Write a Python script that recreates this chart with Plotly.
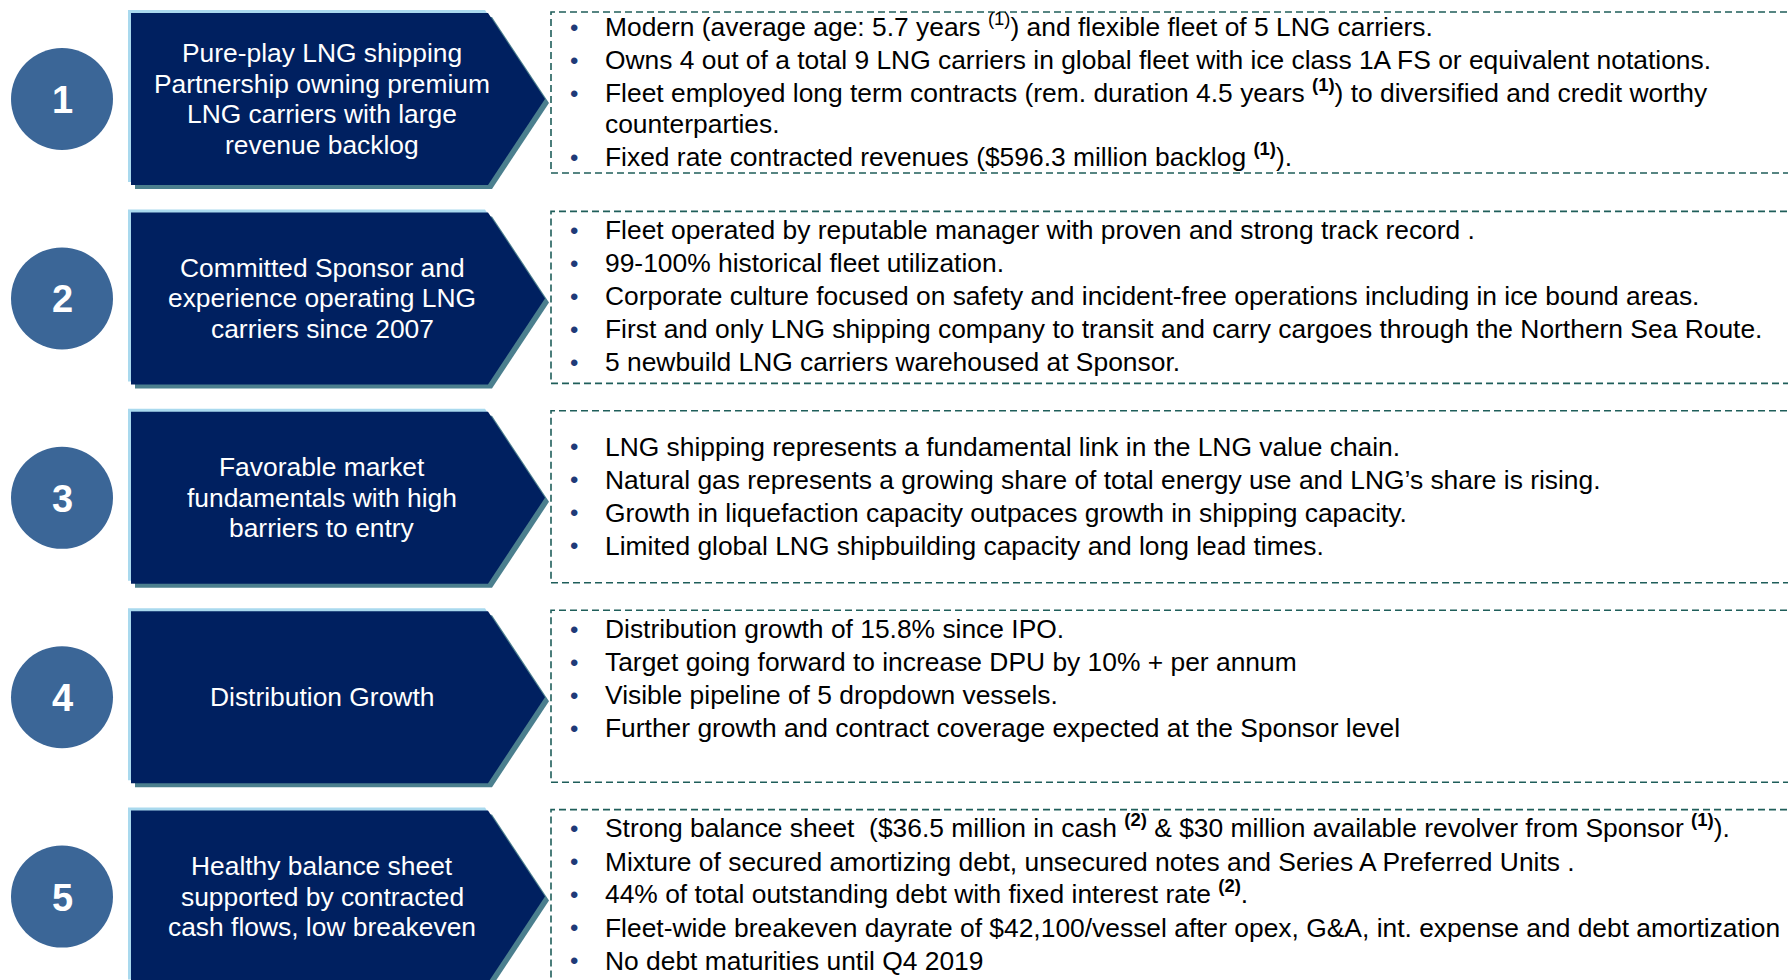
import plotly.graph_objects as go

# ---------------- data ----------------
numbers = ["1", "2", "3", "4", "5"]

titles = [
    ["Pure-play LNG shipping", "Partnership owning premium", "LNG carriers with large", "revenue backlog"],
    ["Committed Sponsor and", "experience operating LNG", "carriers since 2007"],
    ["Favorable market", "fundamentals with high", "barriers to entry"],
    ["Distribution Growth"],
    ["Healthy balance sheet", "supported by contracted", "cash flows, low breakeven"],
]

# each line: (text, starts_with_bullet)
bullets_1 = [
    ("Modern (average age: 5.7 years <sup>(1)</sup>) and flexible fleet of 5 LNG carriers.", True),
    ("Owns 4 out of a total 9 LNG carriers in global fleet with ice class 1A FS or equivalent notations.", True),
    ("Fleet employed long term contracts (rem. duration 4.5 years <b><sup>(1)</sup></b>) to diversified and credit worthy", True),
    ("counterparties.", False),
    ("Fixed rate contracted revenues ($596.3 million backlog <b><sup>(1)</sup></b>).", True),
]
bullets_2 = [
    ("Fleet operated by reputable manager with proven and strong track record .", True),
    ("99-100% historical fleet utilization.", True),
    ("Corporate culture focused on safety and incident-free operations including in ice bound areas.", True),
    ("First and only LNG shipping company to transit and carry cargoes through the Northern Sea Route.", True),
    ("5 newbuild LNG carriers warehoused at Sponsor.", True),
]
bullets_3 = [
    ("LNG shipping represents a fundamental link in the LNG value chain.", True),
    ("Natural gas represents a growing share of total energy use and LNG\u2019s share is rising.", True),
    ("Growth in liquefaction capacity outpaces growth in shipping capacity.", True),
    ("Limited global LNG shipbuilding capacity and long lead times.", True),
]
bullets_4 = [
    ("Distribution growth of 15.8% since IPO.", True),
    ("Target going forward to increase DPU by 10% + per annum", True),
    ("Visible pipeline of 5 dropdown vessels.", True),
    ("Further growth and contract coverage expected at the Sponsor level", True),
]
bullets_5 = [
    ("Strong balance sheet\u00a0 ($36.5 million in cash <b><sup>(2)</sup></b> &amp; $30 million available revolver from Sponsor <b><sup>(1)</sup></b>).", True),
    ("Mixture of secured amortizing debt, unsecured notes and Series A Preferred Units .", True),
    ("44% of total outstanding debt with fixed interest rate <b><sup>(2)</sup></b>.", True),
    ("Fleet-wide breakeven dayrate of $42,100/vessel after opex, G&amp;A, int. expense and debt amortization", True),
    ("No debt maturities until Q4 2019", True),
]
bullet_rows = [bullets_1, bullets_2, bullets_3, bullets_4, bullets_5]

# ---------------- layout constants ----------------
W, H = 1788, 980
ROW_C0, ROW_PITCH = 99, 199.4
CIRCLE_X, CIRCLE_R = 62, 51
PENT_L, PENT_SH, PENT_TIP, PENT_HH = 131, 488, 545, 86
BOX_L = 551
BOX_TOP_PAD = 87
BOX_BOT_PAD = [74, 85, 85, 85, 85]
FIRST_LINE = [-72, -68, -51, -68, -68]
BULLET_X, TEXT_X = 574, 603
LINE_PITCH, WRAP_PITCH = 33, 31
TITLE_X, TITLE_PITCH = 322, 30.5
FS = 26.4
SUP_SHIFT = 2.5  # superscripts enlarge the text box; keep baseline aligned

NAVY = "#002060"
CIRCLE_COL = "#3B6697"
EDGE_LIGHT = "#A9D9EE"
EDGE_DARK = "#4B7F8E"
DASH_COL = "#1F5E5A"
BULLET_COL = "#1F3A78"
FONT = "Arial, Liberation Sans, sans-serif"


def pent_path(cy, dx=0, dy=0, hh=PENT_HH):
    t, b = cy - hh + dy, cy + hh + dy
    return (f"M {PENT_L+dx},{t} L {PENT_SH+dx},{t} L {PENT_TIP+dx},{cy+dy} "
            f"L {PENT_SH+dx},{b} L {PENT_L+dx},{b} Z")


shapes, annots = [], []
for i in range(len(numbers)):
    cy = ROW_C0 + i * ROW_PITCH
    # circle
    shapes.append(dict(type="circle", xref="x", yref="y",
                       x0=CIRCLE_X - CIRCLE_R, x1=CIRCLE_X + CIRCLE_R,
                       y0=cy - CIRCLE_R, y1=cy + CIRCLE_R,
                       fillcolor=CIRCLE_COL, line=dict(width=0)))
    annots.append(dict(x=CIRCLE_X, y=cy + 1, text=f"<b>{numbers[i]}</b>", showarrow=False,
                       xref="x", yref="y", font=dict(family=FONT, size=38, color="white")))
    # pentagon with edges
    shapes.append(dict(type="path", path=pent_path(cy, -3, -3), fillcolor=EDGE_LIGHT,
                       line=dict(width=0), xref="x", yref="y"))
    shapes.append(dict(type="path", path=pent_path(cy, 4, 4), fillcolor=EDGE_DARK,
                       line=dict(width=0), xref="x", yref="y"))
    shapes.append(dict(type="path", path=pent_path(cy), fillcolor=NAVY,
                       line=dict(width=0), xref="x", yref="y"))
    tl = titles[i]
    for k, line in enumerate(tl):
        ty = cy + (k - (len(tl) - 1) / 2) * TITLE_PITCH
        annots.append(dict(x=TITLE_X, y=ty, text=line, showarrow=False, xref="x", yref="y",
                           xanchor="center", yanchor="middle",
                           font=dict(family=FONT, size=FS, color="white")))
    # dashed box (open on the right)
    bt, bb = cy - BOX_TOP_PAD, cy + BOX_BOT_PAD[i]
    shapes.append(dict(type="path", xref="x", yref="y",
                       path=f"M {W+10},{bt} L {BOX_L},{bt} L {BOX_L},{bb} L {W+10},{bb}",
                       line=dict(color=DASH_COL, width=1.6, dash="7px,4px")))
    # bullet lines
    y = cy + FIRST_LINE[i]
    for k, (txt, is_b) in enumerate(bullet_rows[i]):
        if k > 0:
            y += LINE_PITCH if is_b else WRAP_PITCH
        if is_b:
            annots.append(dict(x=BULLET_X, y=y, text="\u2022", showarrow=False, xref="x", yref="y",
                               xanchor="center", yanchor="middle",
                               font=dict(family=FONT, size=24, color=BULLET_COL)))
        annots.append(dict(x=TEXT_X, y=y, text=txt, showarrow=False, xref="x", yref="y",
                           xanchor="left", yanchor="middle",
                           yshift=SUP_SHIFT if "<sup>" in txt else 0,
                           font=dict(family=FONT, size=FS, color="#000000")))

fig = go.Figure()
fig.update_layout(
    width=W, height=H, margin=dict(l=0, r=0, t=0, b=0),
    paper_bgcolor="white", plot_bgcolor="white",
    xaxis=dict(range=[0, W], visible=False, fixedrange=True),
    yaxis=dict(range=[H, 0], visible=False, fixedrange=True),
    shapes=shapes, annotations=annots, showlegend=False,
)
fig.write_html("out.html", config={"displayModeBar": False},
               post_script="document.body.style.margin='0';document.body.style.overflow='hidden';")
